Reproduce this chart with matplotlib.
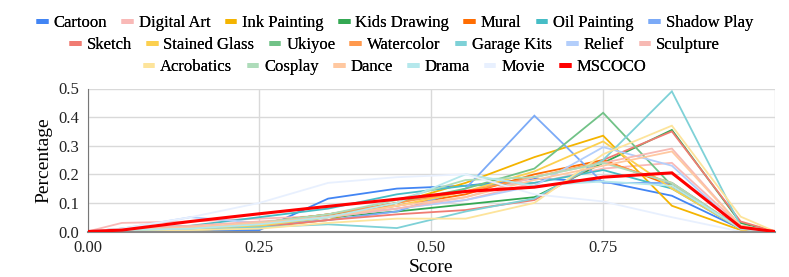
import matplotlib
matplotlib.use("Agg")
import matplotlib.pyplot as plt
from matplotlib.lines import Line2D
from matplotlib.font_manager import FontProperties

plt.rcParams['font.family'] = 'serif'
plt.rcParams['font.serif'] = ['Liberation Serif', 'DejaVu Serif']
FP = dict(family='Liberation Serif')

scores = [0, 0.05, 0.15, 0.25, 0.35, 0.45, 0.55, 0.65, 0.75, 0.85, 0.95, 1.0]

names = ["Cartoon", "Digital Art", "Ink Painting", "Kids Drawing", "Mural", "Oil Painting",
         "Shadow Play", "Sketch", "Stained Glass", "Ukiyoe", "Watercolor", "Garage Kits",
         "Relief", "Sculpture", "Acrobatics", "Cosplay", "Dance", "Drama", "Movie", "MSCOCO"]

cartoon       = [0, 0,     0.005, 0.005, 0.115, 0.15,  0.16,  0.185, 0.175, 0.125, 0.01,  0]
digital_art   = [0, 0.03,  0.035, 0.045, 0.055, 0.08,  0.11,  0.17,  0.22,  0.24,  0.02,  0]
ink_painting  = [0, 0,     0.005, 0.015, 0.04,  0.10,  0.17,  0.26,  0.335, 0.09,  0.005, 0]
kids_drawing  = [0, 0,     0.005, 0.02,  0.05,  0.07,  0.095, 0.12,  0.24,  0.355, 0.03,  0]
mural         = [0, 0,     0.01,  0.03,  0.06,  0.09,  0.13,  0.20,  0.25,  0.16,  0.01,  0]
oil_painting  = [0, 0.01,  0.02,  0.05,  0.08,  0.13,  0.16,  0.17,  0.215, 0.15,  0.01,  0]
shadow_play   = [0, 0.005, 0.01,  0.02,  0.04,  0.07,  0.15,  0.405, 0.17,  0.17,  0.01,  0]
sketch        = [0, 0,     0.005, 0.015, 0.04,  0.06,  0.075, 0.11,  0.25,  0.35,  0.035, 0]
stained_glass = [0, 0,     0.005, 0.02,  0.05,  0.09,  0.14,  0.21,  0.315, 0.15,  0.01,  0]
ukiyoe        = [0, 0,     0.01,  0.03,  0.06,  0.10,  0.15,  0.22,  0.415, 0.16,  0.01,  0]
watercolor    = [0, 0,     0.01,  0.03,  0.06,  0.10,  0.14,  0.19,  0.245, 0.17,  0.01,  0]
garage_kits   = [0, 0,     0.005, 0.015, 0.025, 0.012, 0.07,  0.115, 0.25,  0.49,  0.02,  0]
relief        = [0, 0.01,  0.05,  0.03,  0.05,  0.08,  0.11,  0.16,  0.295, 0.23,  0.01,  0]
sculpture     = [0, 0.01,  0.02,  0.035, 0.05,  0.08,  0.12,  0.19,  0.24,  0.29,  0.02,  0]
acrobatics    = [0, 0,     0.005, 0.01,  0.03,  0.045, 0.045, 0.10,  0.27,  0.37,  0.052, 0]
cosplay       = [0, 0.005, 0.01,  0.03,  0.06,  0.11,  0.18,  0.19,  0.24,  0.17,  0.01,  0]
dance         = [0, 0.005, 0.015, 0.03,  0.05,  0.09,  0.12,  0.18,  0.23,  0.28,  0.02,  0]
drama         = [0, 0.005, 0.01,  0.025, 0.05,  0.10,  0.20,  0.16,  0.175, 0.16,  0.01,  0]
movie         = [0, 0.01,  0.05,  0.10,  0.17,  0.19,  0.20,  0.13,  0.105, 0.05,  0,     0]
mscoco        = [0, 0.005, 0.035, 0.062, 0.088, 0.113, 0.14,  0.155, 0.19,  0.205, 0.015, 0]

series = [cartoon, digital_art, ink_painting, kids_drawing, mural, oil_painting, shadow_play,
          sketch, stained_glass, ukiyoe, watercolor, garage_kits, relief, sculpture,
          acrobatics, cosplay, dance, drama, movie, mscoco]

colors = ["#4285F4", "#F9B9B7", "#F4B400", "#34A853", "#FF6D01", "#46BDC6", "#7BAAF7",
          "#F07B72", "#FCD04F", "#71C287", "#FF994D", "#7ED1D7", "#B3CEFB", "#F7B9B3",
          "#FDE49B", "#AEDCBA", "#FFC8A0", "#B5E8EC", "#E8F0FE", "#FF0000"]

fig = plt.figure(figsize=(7.89, 2.77), dpi=100)
ax = fig.add_axes([87.5/789, 45.5/277, (775-87.5)/789, (231.5-88.5)/277])

for name, vals, c in zip(names, series, colors):
    lw = 2.2 if name == "MSCOCO" else 1.3
    z = 5 if name == "MSCOCO" else 2
    ax.plot(scores, vals, color=c, lw=lw, zorder=z, solid_joinstyle='miter')

ax.set_xlim(0, 1.0)
ax.set_ylim(0, 0.5)
ax.set_xticks([0, 0.25, 0.5, 0.75, 1.0])
ax.set_xticklabels(['0.00', '0.25', '0.50', '0.75', ''], fontsize=12, **FP)
ax.set_yticks([0, 0.1, 0.2, 0.3, 0.4, 0.5])
ax.set_yticklabels(['0.0', '0.1', '0.2', '0.3', '0.4', '0.5'], fontsize=12, **FP)
ax.tick_params(length=0, colors='#222222', pad=6)
ax.grid(True, color='#D9D9D9', lw=1.0)
ax.set_axisbelow(True)
for s in ['top', 'right']:
    ax.spines[s].set_visible(False)
ax.spines['left'].set_color('#777777')
ax.spines['bottom'].set_color('#888888')
ax.spines['bottom'].set_linewidth(1.5)
ax.set_xlabel('Score', fontsize=14, labelpad=2, **FP)
ax.set_ylabel('Percentage', fontsize=14, labelpad=4, **FP)

handles = [Line2D([], [], color=c, lw=3.5, solid_capstyle='butt') for c in colors]
rows = [(0, 7, 23), (7, 14, 45), (14, 20, 67)]
for a, b, ypix in rows:
    leg = fig.legend(handles[a:b], names[a:b], loc='center', bbox_to_anchor=(0.5, 1 - ypix/277),
                     ncol=b - a, frameon=False, prop=FontProperties(family='Liberation Serif', size=12),
                     handlelength=0.7, handletextpad=0.35, columnspacing=0.85,
                     borderpad=0, borderaxespad=0)
    fig.add_artist(leg)

fig.savefig('out.png', dpi=100)
